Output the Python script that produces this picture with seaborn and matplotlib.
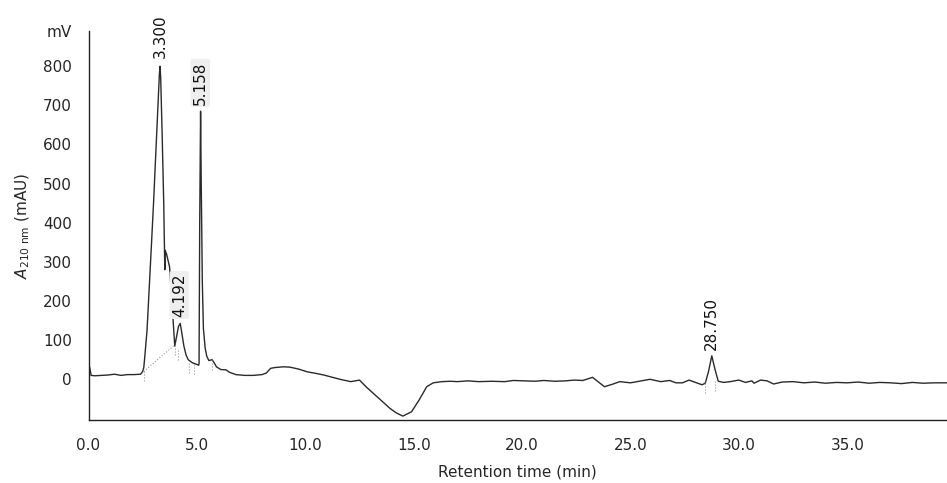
import matplotlib
matplotlib.use("Agg")
import matplotlib.pyplot as plt
import seaborn as sns
import pandas as pd

# chromatogram trace (retention time in min, signal in mAU)
time_min = [0.0, 0.05, 0.12, 0.3, 0.6, 0.9, 1.2, 1.5, 1.8, 2.1, 2.4, 2.5, 2.55, 2.6,
            2.7, 2.8, 2.9, 3.0, 3.1, 3.2, 3.27, 3.3, 3.33, 3.4, 3.47, 3.52, 3.53, 3.6,
            3.74, 3.82, 3.9, 3.98, 4.05, 4.15, 4.23, 4.3, 4.4, 4.5, 4.6, 4.8, 5.0, 5.08,
            5.1, 5.13, 5.17, 5.2, 5.25, 5.3, 5.38, 5.45, 5.55, 5.7, 5.8, 5.9, 6.1,
            6.35, 6.5, 6.8, 7.2, 7.6, 8.0, 8.2, 8.4, 8.6, 9.0, 9.3, 9.7, 10.1, 10.5,
            10.85, 11.2, 11.6, 12.1, 12.5, 12.8, 13.3, 13.9, 14.2, 14.5, 14.9, 15.25,
            15.6, 15.9, 16.3, 16.7, 17.0, 17.5, 18.0, 18.6, 19.2, 19.6, 20.1, 20.6,
            21.0, 21.5, 22.0, 22.4, 22.8, 23.25, 23.5, 23.8, 24.2, 24.5, 25.0, 25.5,
            25.9, 26.4, 26.8, 27.1, 27.4, 27.7, 28.0, 28.3, 28.45, 28.6, 28.75, 28.9,
            29.05, 29.3, 29.6, 30.0, 30.3, 30.6, 30.7, 31.0, 31.3, 31.6, 32.0, 32.5,
            33.0, 33.5, 34.0, 34.5, 35.0, 35.5, 36.0, 36.5, 37.0, 37.5, 38.0, 38.5,
            39.0, 39.6]
signal_mau = [10, 32, 10, 9, 10, 11, 13, 10, 12, 12, 13, 20, 30, 60,
              125, 230, 340, 450, 570, 690, 780, 800, 770, 620, 450, 280, 330, 320,
              287, 220, 150, 85, 105, 135, 143, 120, 85, 62, 50, 42, 38, 36,
              40, 400, 685, 500, 250, 130, 80, 60, 48, 50, 42, 32, 25,
              24, 18, 12, 10, 10, 12, 16, 28, 30, 32, 31, 26, 19, 15,
              11, 6, 0, -6, -2, -19, -44, -74, -86, -94, -83, -53,
              -19, -9, -6, -5, -6, -4, -6, -5, -6, -3, -4, -5,
              -3, -5, -4, -2, -3, 5, -6, -19, -12, -6, -9, -4,
              0, -6, -3, -9, -9, -2, -8, -14, -10, 20, 60, 25,
              -5, -8, -6, -2, -8, -4, -10, -2, -4, -12, -7, -6,
              -9, -7, -10, -8, -9, -7, -10, -8, -9, -11, -8, -10,
              -9, -9]

# integration baseline and peak boundary marks
baseline_t = [2.55, 3.98]
baseline_v = [20, 88]
boundary_t = [2.55, 3.98, 4.15, 4.65, 4.85, 5.7, 28.45, 28.9]
boundary_v = [20, 88, 75, 40, 38, 50, -10, -5]

# peak labels (bottom of each label)
peak_t = [3.30, 4.192, 5.158, 28.75]
peak_v = [822, 160, 702, 76]
peak_names = ["3.300", "4.192", "5.158", "28.750"]

x_ticks = [0, 5, 10, 15, 20, 25, 30, 35]
y_ticks = [0, 100, 200, 300, 400, 500, 600, 700, 800, 890]
y_tick_labels = ["0", "100", "200", "300", "400", "500", "600", "700", "800", "mV"]

sns.set_style("white")
plt.rcParams["font.family"] = ["DejaVu Sans"]

df = pd.DataFrame({"t": time_min, "v": signal_mau})

fig = plt.figure(figsize=(9.47, 4.83), dpi=100)
ax = fig.add_axes([88.5 / 947, (483 - 420) / 483, 1 - 88.5 / 947, (420 - 31) / 483])

sns.lineplot(data=df, x="t", y="v", ax=ax, color="#2a2a2a", linewidth=1.0,
             estimator=None, sort=False)

ax.plot(baseline_t, baseline_v, linestyle=":", color="#9a9a9a", linewidth=0.8)
for bt, bv in zip(boundary_t, boundary_v):
    ax.plot([bt, bt], [bv - 25, bv + 5], linestyle=":", color="#9a9a9a", linewidth=0.8)

for pt, pv, name in zip(peak_t, peak_v, peak_names):
    kw = {}
    if name in ("4.192", "5.158"):
        kw["bbox"] = dict(boxstyle="round,pad=0.15", fc="#eeeeee", ec="none")
    ax.text(pt, pv, name, rotation=90, ha="center", va="bottom",
            fontsize=11, color="#111111", **kw)

ax.set_xlim(0, 39.6)
ax.set_ylim(-104, 890)
ax.set_xticks(x_ticks)
ax.set_xticklabels([f"{v:.1f}" for v in x_ticks])
ax.set_yticks(y_ticks)
ax.set_yticklabels(y_tick_labels)

ax.tick_params(axis="x", length=0, pad=13, labelsize=11)
ax.tick_params(axis="y", direction="in", length=6, width=1, pad=12, labelsize=11,
               color="#222222")

for side in ["top", "right"]:
    ax.spines[side].set_visible(False)
for side in ["left", "bottom"]:
    ax.spines[side].set_color("#222222")
    ax.spines[side].set_linewidth(1.0)

ax.set_xlabel("Retention time (min)", fontsize=11, labelpad=8)
ax.set_ylabel(r"$\mathit{A}_{\mathrm{210\ nm}}$ (mAU)", fontsize=11, labelpad=8)

fig.savefig("out.png", dpi=100)
